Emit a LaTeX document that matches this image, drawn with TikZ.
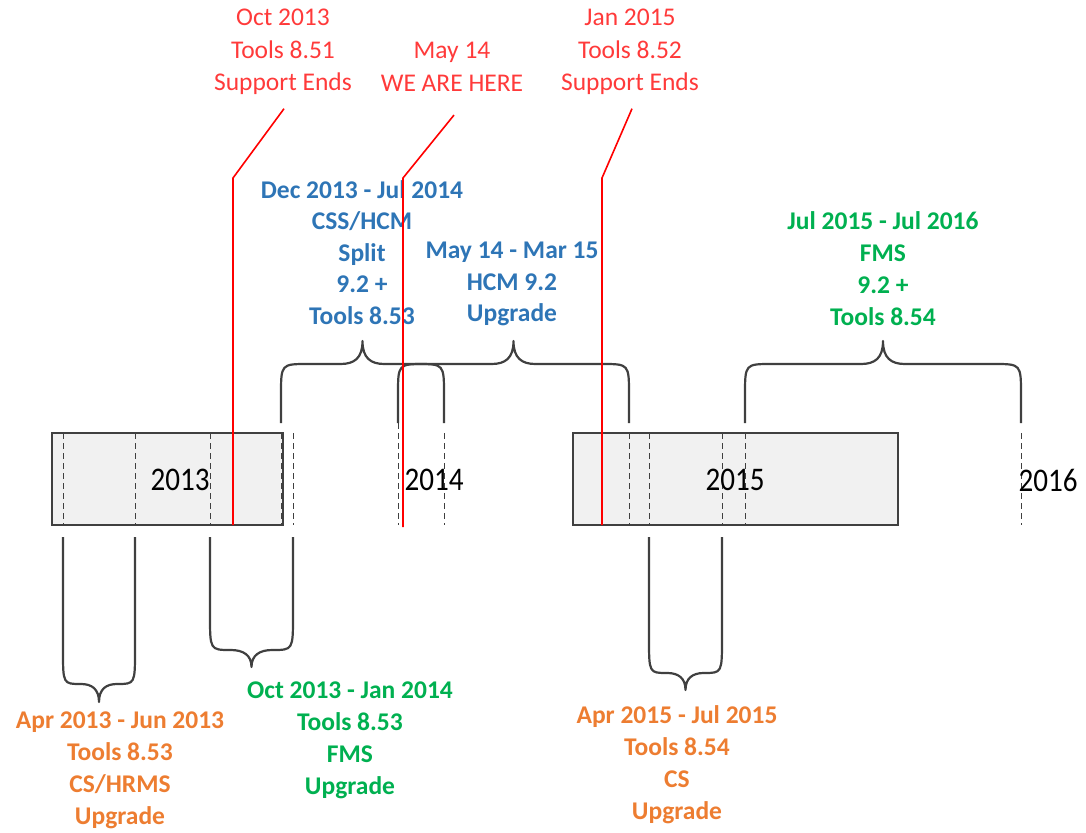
\documentclass[tikz,border=0pt]{standalone}
\usepackage{fontspec}
\usepackage{graphicx}
\setmainfont{Carlito}
\usetikzlibrary{calc}
\definecolor{redc}{HTML}{FF3A3A}
\definecolor{redl}{HTML}{FF0000}
\definecolor{bluec}{HTML}{2E75B6}
\definecolor{greenc}{HTML}{00B050}
\definecolor{orangec}{HTML}{ED7D31}
\definecolor{linec}{HTML}{404040}
\definecolor{boxfill}{HTML}{F1F1F1}
\tikzset{
  lbl/.style={align=center, inner sep=0pt, anchor=north, execute at begin node=\strut},
  redlbl/.style={lbl, text=redc, font=\fontsize{25.5}{32.5}\selectfont},
  bluelbl/.style={lbl, text=bluec, font=\bfseries\fontsize{25.5}{31.5}\selectfont},
  greenlbl/.style={lbl, text=greenc, font=\bfseries\fontsize{25.5}{32}\selectfont},
  orangelbl/.style={lbl, text=orangec, font=\bfseries\fontsize{25.5}{32}\selectfont},
  yearlbl/.style={inner sep=0pt, text=black, font=\fontsize{30}{36}\selectfont},
  yearbox/.style={draw=linec, line width=2pt, fill=boxfill, inner sep=0pt},
  dashline/.style={draw=linec, line width=1pt, dash pattern=on 6pt off 4pt},
  bracestyle/.style={draw=linec, line width=2.2pt, line join=round},
  redline/.style={draw=redl, line width=1.6pt},
}
\newcommand{\YearTxt}[1]{\scalebox{0.97}[1.1]{#1}}
\newcommand{\TopBr}[2]{%
  \pgfmathsetmacro{\brXm}{(#1+#2)/2}%
  \draw[bracestyle] (#1,423) -- (#1,395) .. controls (#1,364) .. (#1+27,364)
    -- (\brXm-22,364) .. controls (\brXm-8,364) and (\brXm,358) .. (\brXm,341)
    .. controls (\brXm,358) and (\brXm+8,364) .. (\brXm+22,364)
    -- (#2-27,364) .. controls (#2,364) .. (#2,395) -- (#2,423);}
\newcommand{\BotBr}[5]{%
  \pgfmathsetmacro{\brXm}{(#1+#2)/2}%
  \pgfmathsetmacro{\brHw}{(#2-#1)/2}%
  \draw[bracestyle] (#1,537) -- (#1,#3) .. controls (#1,#4) .. (#1+0.5*\brHw,#4)
    .. controls (\brXm-0.2*\brHw,#4) and (\brXm,#4+5) .. (\brXm,#5)
    .. controls (\brXm,#4+5) and (\brXm+0.2*\brHw,#4) .. (#2-0.5*\brHw,#4)
    .. controls (#2,#4) .. (#2,#3) -- (#2,537);}
\begin{document}
\begin{tikzpicture}[x=1pt,y=-1pt]
\useasboundingbox (0,0) rectangle (1086,832);
% boxes
\node[yearbox, minimum width=231pt, minimum height=92pt] (box13) at (167.5,479) {};
\node[yearbox, minimum width=325pt, minimum height=92pt] (box15) at (735.5,479) {};
% dashed marks
\foreach \x in {63,135,210,281,293,444,629,649,722,745,1021}
  \draw[dashline] (\x,433) -- (\x,525);
\draw[dashline] (398,423) -- (398,525);
% year labels
\node[yearlbl] (y13) at (180,480) {\YearTxt{2013}};
\node[yearlbl] (y14) at (434,480) {\YearTxt{2014}};
\node[yearlbl] (y15) at (735,480) {\YearTxt{2015}};
\node[yearlbl] (y16) at (1048,480) {\YearTxt{2016}};
% braces above
\TopBr{281}{444}
\TopBr{398}{629}
\TopBr{745}{1021}
% braces below
\BotBr{63}{135}{650}{684}{702}
\BotBr{210}{293}{615}{650}{667}
\BotBr{649}{722}{638}{673}{690}
% labels
\node[redlbl] (r1lbl) at (283,9) {Oct 2013\\Tools 8.51\\Support Ends};
\node[redlbl] (r2lbl) at (452,42) {May 14\\WE ARE HERE};
\node[redlbl] (r3lbl) at (630,9) {Jan 2015\\Tools 8.52\\Support Ends};
\node[bluelbl] (b1lbl) at (362,180) {Dec 2013 - Jul 2014\\CSS/HCM\\Split\\9.2 +\\Tools 8.53};
\node[bluelbl] (b2lbl) at (512,242) {May 14 - Mar 15\\HCM 9.2\\Upgrade};
\node[greenlbl] (g1lbl) at (883,211) {Jul 2015 - Jul 2016\\FMS\\9.2 +\\Tools 8.54};
\node[orangelbl] (o1lbl) at (120,712) {Apr 2013 - Jun 2013\\Tools 8.53\\CS/HRMS\\Upgrade};
\node[greenlbl] (g2lbl) at (350,681.5) {Oct 2013 - Jan 2014\\Tools 8.53\\FMS\\Upgrade};
\node[orangelbl] (o3lbl) at (677,705.5) {Apr 2015 - Jul 2015\\Tools 8.54\\CS\\Upgrade};
% red markers
\coordinate (r1b) at (233,525); \coordinate (r1k) at (233,178);
\coordinate (r2b) at (403,527); \coordinate (r2k) at (403,178);
\coordinate (r3b) at (602,525); \coordinate (r3k) at (602,178);
\draw[redline] (r1b) -- (r1k) -- ($(r1lbl.south)+(1,8)$);
\draw[redline] (r2b) -- (r2k) -- ($(r2lbl.south)+(2,14)$);
\draw[redline] (r3b) -- (r3k) -- ($(r3lbl.south)+(2,8)$);
\end{tikzpicture}
\end{document}
